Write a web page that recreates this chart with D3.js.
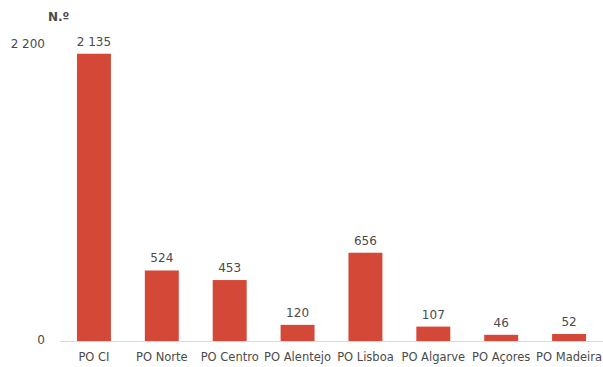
<!DOCTYPE html>
<html>
<head>
<meta charset="utf-8">
<script src="https://cdn.jsdelivr.net/npm/d3@7"></script>
<style>
  html, body { margin: 0; padding: 0; background: #fff; }
  svg { display: block; font-family: "DejaVu Sans", Verdana, sans-serif; }
</style>
</head>
<body>
<svg id="chart" width="603" height="367"></svg>
<script>
// Operational programmes and their counts
const categories = ["PO CI", "PO Norte", "PO Centro", "PO Alentejo", "PO Lisboa", "PO Algarve", "PO Açores", "PO Madeira"];
const values = [2135, 524, 453, 120, 656, 107, 46, 52];
const yTicks = [0, 2200];
const unitLabel = "N.º";

const svg = d3.select("#chart");
const margin = { left: 60, right: 0, top: 45, bottom: 26 };
const W = 603, H = 367;
const textColor = "#4a4a4a";

const x = d3.scaleBand()
  .domain(categories)
  .range([margin.left, W - margin.right])
  .paddingInner(0.5)
  .paddingOuter(0.25);

const y = d3.scaleLinear()
  .domain([0, 2200])
  .range([H - margin.bottom, margin.top]);

const fmt = v => d3.format(",")(v).replace(/,/g, " ");

// Baseline
svg.append("line")
  .attr("x1", margin.left).attr("x2", W)
  .attr("y1", y(0) + 0.5).attr("y2", y(0) + 0.5)
  .attr("stroke", "#d9d9d9").attr("stroke-width", 1);

// Y tick labels
svg.append("g").selectAll("text")
  .data(yTicks)
  .join("text")
  .attr("x", 45)
  .attr("y", d => y(d) - 1)
  .attr("dy", "0.35em")
  .attr("text-anchor", "end")
  .attr("font-size", 12)
  .attr("fill", textColor)
  .text(fmt);

// Unit label
svg.append("text")
  .attr("x", 48).attr("y", 21)
  .attr("font-size", 12)
  .attr("font-weight", "bold")
  .attr("fill", textColor)
  .text(unitLabel);

// Bars
svg.append("g").selectAll("rect")
  .data(values)
  .join("rect")
  .attr("x", (d, i) => x(categories[i]))
  .attr("width", x.bandwidth())
  .attr("y", d => y(d))
  .attr("height", d => y(0) - y(d))
  .attr("fill", "#d44838");

// Value labels
svg.append("g").selectAll("text")
  .data(values)
  .join("text")
  .attr("x", (d, i) => x(categories[i]) + x.bandwidth() / 2)
  .attr("y", d => y(d) - 8)
  .attr("text-anchor", "middle")
  .attr("font-size", 12)
  .attr("fill", textColor)
  .text(fmt);

// Category labels
svg.append("g").selectAll("text")
  .data(categories)
  .join("text")
  .attr("x", d => x(d) + x.bandwidth() / 2)
  .attr("y", H - 6)
  .attr("text-anchor", "middle")
  .attr("font-size", 11.5)
  .attr("fill", textColor)
  .text(d => d);
</script>
</body>
</html>
